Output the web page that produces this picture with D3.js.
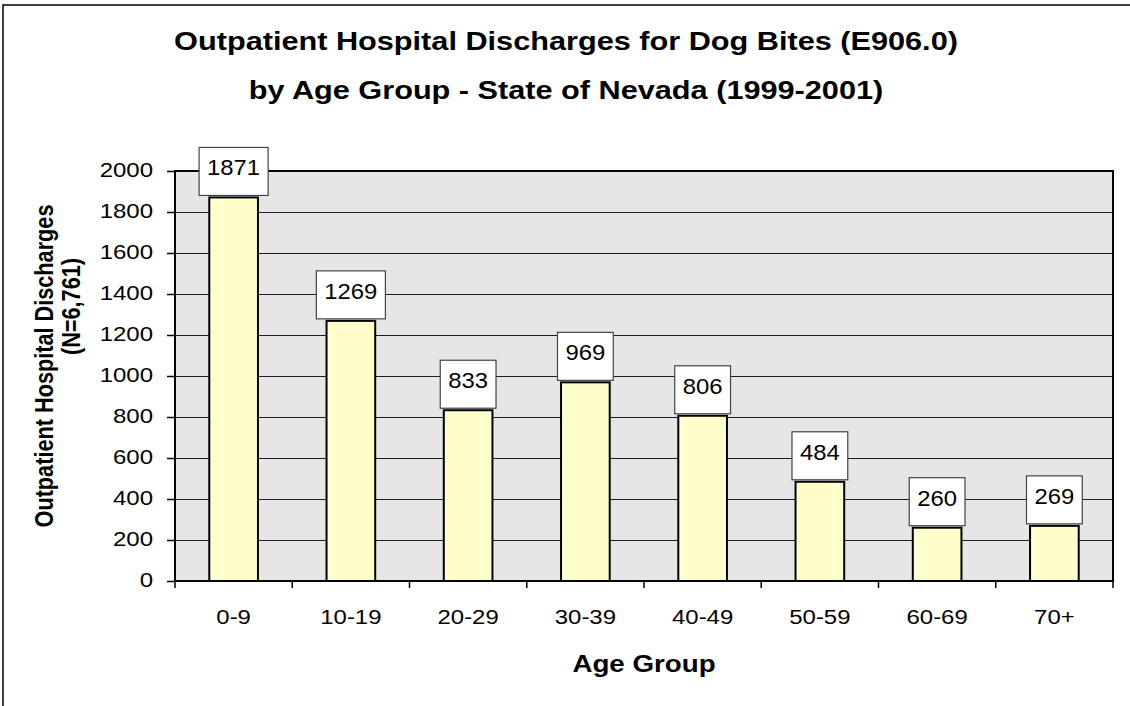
<!DOCTYPE html>
<html>
<head>
<meta charset="utf-8">
<script src="https://cdn.jsdelivr.net/npm/d3@7"></script>
<style>
  body { margin: 0; background: #fff; }
  svg { display: block; font-family: "Liberation Sans", Arial, sans-serif; }
</style>
</head>
<body>
<script>
const ageGroups = ["0-9", "10-19", "20-29", "30-39", "40-49", "50-59", "60-69", "70+"];
const discharges = [1871, 1269, 833, 969, 806, 484, 260, 269];
const yTicks = [0, 200, 400, 600, 800, 1000, 1200, 1400, 1600, 1800, 2000];
const titleLines = [
  "Outpatient Hospital Discharges for Dog Bites (E906.0)",
  "by Age Group - State of Nevada (1999-2001)"
];
const yTitleLines = ["Outpatient Hospital Discharges", "(N=6,761)"];
const xTitle = "Age Group";

const width = 1130, height = 706;
const plot = { left: 175, right: 1113, top: 171, bottom: 581 };

const main = () => {
  const svg = d3.select("body").append("svg").attr("width", width).attr("height", height);

  // outer chart frame (runs off the right / bottom edge like the original)
  svg.append("rect")
    .attr("x", 3).attr("y", 5)
    .attr("width", width + 20).attr("height", height + 20)
    .attr("fill", "none").attr("stroke", "#000").attr("stroke-width", 1.5);

  const x = d3.scaleBand()
    .domain(ageGroups)
    .range([plot.left, plot.right])
    .paddingInner(0.585)
    .paddingOuter(0.2925);
  const y = d3.scaleLinear().domain([0, 2000]).range([plot.bottom, plot.top]);

  buildPlot(svg, x, y);
  buildTitles(svg);
};

// text placed at (px, py), stretched horizontally by sx
const stretched = (parent, px, py, sx, str) =>
  parent.append("g")
    .attr("transform", `translate(${px},${py})`)
    .append("text")
    .attr("transform", `scale(${sx},1)`)
    .text(str);

const buildPlot = (svg, x, y) => {
  svg.append("rect")
    .attr("x", plot.left).attr("y", plot.top)
    .attr("width", plot.right - plot.left).attr("height", plot.bottom - plot.top)
    .attr("fill", "#e6e6e6");

  // gridlines
  svg.append("g")
    .attr("stroke", "#1e1e1e")
    .attr("stroke-width", 1)
    .selectAll("line")
    .data(yTicks.slice(1, -1))
    .join("line")
    .attr("x1", plot.left).attr("x2", plot.right)
    .attr("y1", (d) => Math.round(y(d)) + 0.5)
    .attr("y2", (d) => Math.round(y(d)) + 0.5);

  // y axis
  const yAxis = svg.append("g")
    .attr("transform", `translate(${plot.left},0)`)
    .call(d3.axisLeft(y).tickValues(yTicks).tickSize(8).tickFormat(d3.format("d")));
  yAxis.attr("font-family", null).attr("font-size", null);
  yAxis.select(".domain").remove();
  yAxis.selectAll(".tick line").attr("stroke", "#000").attr("stroke-width", 1.5);
  yAxis.selectAll(".tick text")
    .attr("x", 0)
    .attr("dy", "0.34em")
    .attr("transform", "translate(-22,-1) scale(1.2,1)")
    .attr("font-size", 20)
    .attr("fill", "#000");

  // x axis: ticks on the category boundaries
  const edges = d3.range(ageGroups.length + 1).map((i) => plot.left + i * x.step());
  svg.append("g")
    .attr("stroke", "#000")
    .attr("stroke-width", 1.5)
    .selectAll("line")
    .data(edges)
    .join("line")
    .attr("x1", (d) => d).attr("x2", (d) => d)
    .attr("y1", plot.bottom).attr("y2", plot.bottom + 7);

  const xLabels = svg.append("g").attr("font-size", 21).attr("text-anchor", "middle");
  ageGroups.forEach((g) => stretched(xLabels, x(g) + x.bandwidth() / 2, 624, 1.14, g));

  // bars
  svg.append("g")
    .selectAll("rect")
    .data(discharges)
    .join("rect")
    .attr("x", (d, i) => x(ageGroups[i]))
    .attr("y", (d) => y(d))
    .attr("width", x.bandwidth())
    .attr("height", (d) => y(0) - y(d))
    .attr("fill", "#ffffcc")
    .attr("stroke", "#000")
    .attr("stroke-width", 2);

  // plot border
  svg.append("rect")
    .attr("x", plot.left).attr("y", plot.top)
    .attr("width", plot.right - plot.left).attr("height", plot.bottom - plot.top)
    .attr("fill", "none").attr("stroke", "#000").attr("stroke-width", 2);

  // value boxes
  const labels = svg.append("g")
    .selectAll("g")
    .data(discharges)
    .join("g")
    .attr("transform", (d, i) => `translate(${x(ageGroups[i]) + x.bandwidth() / 2},${y(d) - 2})`);
  labels.each(function (d) {
    const g = d3.select(this);
    const box = g.append("rect");
    const t = g.append("text")
      .attr("text-anchor", "middle")
      .attr("font-size", 22.5)
      .attr("transform", "translate(0,-20) scale(1.06,1)")
      .text(d);
    const w = t.node().getComputedTextLength() * 1.06 + 16;
    box.attr("x", -w / 2).attr("y", -48)
      .attr("width", w).attr("height", 48)
      .attr("fill", "#fff").attr("stroke", "#444").attr("stroke-width", 1.2);
  });
};

const buildTitles = (svg) => {
  const title = svg.append("g")
    .attr("font-size", 26).attr("font-weight", "bold").attr("text-anchor", "middle");
  titleLines.forEach((line, i) => stretched(title, 566, 50 + i * 48.5, 1.18, line));

  const xt = svg.append("g")
    .attr("font-size", 23.5).attr("font-weight", "bold").attr("text-anchor", "middle");
  stretched(xt, (plot.left + plot.right) / 2, 672, 1.18, xTitle);

  // y title: rotated, glyph height stretched to match the original
  const yt = svg.append("g")
    .attr("font-size", 21.7).attr("font-weight", "bold").attr("text-anchor", "middle");
  yt.append("g")
    .attr("transform", "translate(53,366) rotate(-90)")
    .append("text").attr("transform", "scale(1,1.18)").text(yTitleLines[0]);
  yt.append("g")
    .attr("transform", "translate(80,306.5) rotate(-90)")
    .append("text").attr("transform", "scale(1,1.18)").text(yTitleLines[1]);
};

document.addEventListener("DOMContentLoaded", main);
</script>
</body>
</html>
